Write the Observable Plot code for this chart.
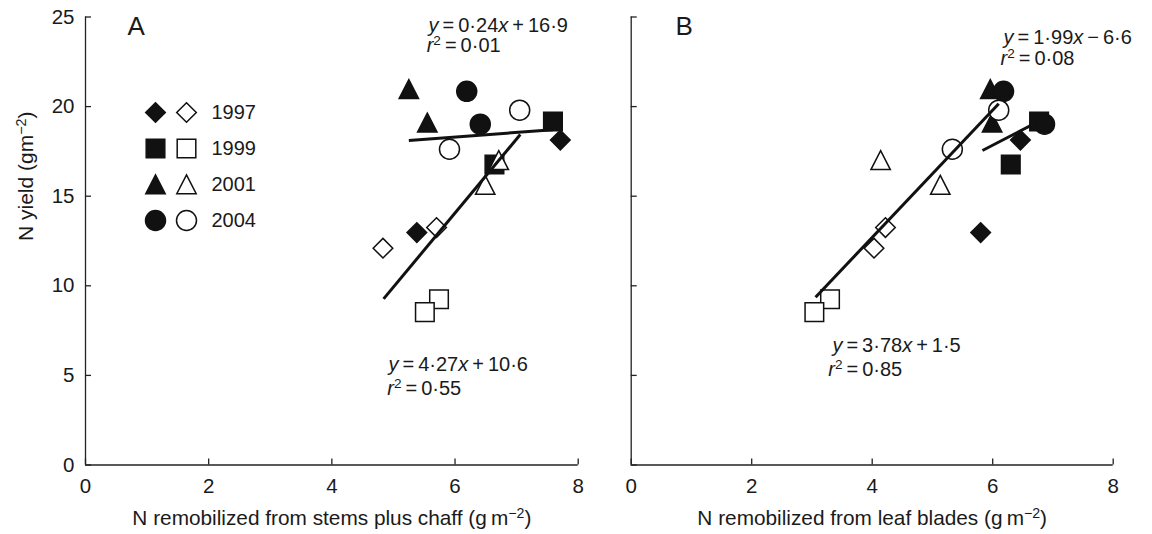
<!DOCTYPE html>
<html><head><meta charset="utf-8">
<script src="https://cdn.jsdelivr.net/npm/d3@7"></script>
<script src="https://cdn.jsdelivr.net/npm/@observablehq/plot@0.6"></script>
<style>
body{margin:0;background:#fff;}
#wrap{position:relative;width:1152px;height:534px;display:flex;}
#pa{width:600px;height:534px;}
#pb{width:552px;height:534px;}
#legend{position:absolute;left:130px;top:90px;}
svg text{white-space:pre;}
</style></head><body>
<div id="wrap"><div id="pa"></div><div id="pb"></div><div id="legend"></div></div>
<script>
// ---------- data ----------
const years = ["1997", "1999", "2001", "2004"];
const groups = ["I", "II"]; // I = filled symbols, II = open symbols
const obsYear  = ["1997","1997","1997","1997","1999","1999","1999","1999","2001","2001","2001","2001","2004","2004","2004","2004"];
const obsGroup = ["I","I","II","II","I","I","II","II","I","I","II","II","I","I","II","II"];
const stemN  = [7.71, 5.38, 5.70, 4.83, 7.59, 6.64, 5.74, 5.51, 5.25, 5.55, 6.71, 6.49, 6.19, 6.41, 7.05, 5.91];
const leafN  = [6.46, 5.80, 4.22, 4.03, 6.77, 6.30, 3.30, 3.04, 5.96, 5.99, 4.14, 5.13, 6.18, 6.86, 6.10, 5.33];
const yieldN = [18.13, 12.97, 13.25, 12.10, 19.17, 16.77, 9.25, 8.53, 20.96, 19.10, 17.00, 15.62, 20.85, 19.02, 19.80, 17.62];

const xTicks = [0, 2, 4, 6, 8];
const yTicks = [0, 5, 10, 15, 20, 25];

// fitted regression segments
const stemFitX1 = [5.25, 4.84], stemFitY1 = [18.11, 9.27], stemFitX2 = [7.59, 7.06], stemFitY2 = [18.71, 18.44];
const leafFitX1 = [3.06, 5.83], leafFitY1 = [9.36, 17.55], leafFitX2 = [6.10, 6.74], leafFitY2 = [20.16, 19.13];

// equation annotations (*italic*, ^superscript^)
const stemEq  = ["*y* = 0·24*x* + 16·9", "*r*^2^ = 0·01", "*y* = 4·27*x* + 10·6", "*r*^2^ = 0·55"];
const stemEqX = [5.57, 5.54, 4.92, 4.90];
const stemEqY = [24.19, 23.02, 5.22, 3.93];
const leafEq  = ["*y* = 1·99*x* − 6·6", "*r*^2^ = 0·08", "*y* = 3·78*x* + 1·5", "*r*^2^ = 0·85"];
const leafEqX = [6.18, 6.13, 3.34, 3.27];
const leafEqY = [23.47, 22.30, 6.28, 4.99];

const panelLetters = ["A", "B"];
const xLabels = ["N remobilized from stems plus chaff (g\u2009m^−2^)", "N remobilized from leaf blades (g\u2009m^−2^)"];
const yLabel = "N yield (gm^−2^)";

// ---------- styles ----------
const FONT = '"Liberation Sans", Arial, Helvetica, sans-serif';
const INK = "#1a1a1a";
const diamondSym = {draw(c, s) { const r = Math.sqrt(s / Math.PI) * 0.98; c.moveTo(0, -r); c.lineTo(r, 0); c.lineTo(0, r); c.lineTo(-r, 0); c.closePath(); }};
const squareSym = {draw(c, s) { const r = Math.sqrt(s / Math.PI) * 0.93; c.moveTo(-r, -r); c.lineTo(r, -r); c.lineTo(r, r); c.lineTo(-r, r); c.closePath(); }};
const triangleSym = {draw(c, s) { const r = Math.sqrt(s / Math.PI) * 0.97; c.moveTo(0, -r); c.lineTo(r, r * 0.95); c.lineTo(-r, r * 0.95); c.closePath(); }};
const symbolScale = {domain: years, range: [diamondSym, squareSym, triangleSym, "circle"]};
const colorScale = {type: "ordinal", domain: groups, range: ["#111111", "#ffffff"]};

const obs = obsYear.map((y, i) => ({year: y, group: obsGroup[i], stem: stemN[i], leaf: leafN[i], yld: yieldN[i]}));

const NS = "http://www.w3.org/2000/svg";
function rich(el, src, thin) {
  while (el.firstChild) el.removeChild(el.firstChild);
  const toks = src.match(/(\*[^*]+\*|\^[^^]+\^|[^*^]+)/g);
  let shift = 0;
  for (const tok of toks) {
    const t = document.createElementNS(NS, "tspan");
    let s;
    if (tok[0] === "*") { t.setAttribute("font-style", "italic"); s = tok.slice(1, -1); }
    else if (tok[0] === "^") { t.setAttribute("font-size", "0.68em"); t.setAttribute("dy", "-7"); shift = 7; s = tok.slice(1, -1); }
    else { s = tok; }
    if (tok[0] !== "^" && shift) { t.setAttribute("dy", String(shift)); shift = 0; }
    if (thin) s = s.replace(/ /g, "\u2009");
    t.textContent = s;
    el.appendChild(t);
  }
}

function panel(k) {
  const isA = k === 0;
  const xKey = isA ? "stem" : "leaf";
  const fits = (isA ? stemFitX1 : leafFitX1).map((_, i) => isA
    ? {x1: stemFitX1[i], y1: stemFitY1[i], x2: stemFitX2[i], y2: stemFitY2[i]}
    : {x1: leafFitX1[i], y1: leafFitY1[i], x2: leafFitX2[i], y2: leafFitY2[i]});
  const eq = isA ? stemEq : leafEq, eqX = isA ? stemEqX : leafEqX, eqY = isA ? stemEqY : leafEqY;
  const eqRows = eq.map((s, i) => ({s, x: eqX[i], y: eqY[i]}));
  const svg = Plot.plot({
    width: isA ? 600 : 552, height: 534,
    marginLeft: isA ? 85 : 30.7, marginRight: isA ? 22.3 : 39.3,
    marginTop: 16.5, marginBottom: 69.5,
    style: {fontFamily: FONT, fontSize: "20px", color: INK, background: "transparent", overflow: "visible"},
    x: {domain: [0, 8], label: null},
    y: {domain: [0, 25], label: null},
    symbol: symbolScale,
    color: colorScale,
    marks: [
      Plot.ruleY([0], {stroke: "#222", strokeWidth: 1.3}),
      Plot.ruleX([0], {stroke: "#222", strokeWidth: 1.3}),
      Plot.axisX({ticks: xTicks, tickSize: 6, dy: -6, fill: "none", stroke: "#222", strokeWidth: 1.3, label: null}),
      Plot.axisX({ticks: xTicks, tickSize: 0, tickPadding: 13, fill: INK, label: null, fontSize: 20.5}),
      Plot.axisY({ticks: yTicks, tickSize: 6, dx: 6, fill: "none", stroke: "#222", strokeWidth: 1.3, label: null}),
      isA ? Plot.axisY({ticks: yTicks, tickSize: 0, tickPadding: 11, fill: INK, label: null, fontSize: 20.5}) : null,
      Plot.dot(obs.filter(d => d.group === "I"), {x: xKey, y: "yld", symbol: "year", fill: "group", stroke: "#111", strokeWidth: 1.5, r: 10}),
      Plot.dot(obs.filter(d => d.group === "II"), {x: xKey, y: "yld", symbol: "year", fill: "group", stroke: "#111", strokeWidth: 1.5, r: 10}),
      Plot.link(fits, {x1: "x1", y1: "y1", x2: "x2", y2: "y2", stroke: "#111", strokeWidth: 3}),
      Plot.text(eqRows, {x: "x", y: "y", text: "s", textAnchor: "start", lineAnchor: "bottom", fill: INK, fontSize: 20, ariaDescription: "equation"}),
      Plot.text([panelLetters[k]], {x: () => isA ? 0.68 : 0.735, y: () => 24.0, text: d => d, textAnchor: "start", lineAnchor: "bottom", fill: INK, fontSize: 26}),
      Plot.text([xLabels[k]], {frameAnchor: "bottom", dy: 59.5, lineAnchor: "bottom", fill: INK, fontSize: 20.8, ariaDescription: "xlabel"}),
      isA ? Plot.text([yLabel], {frameAnchor: "left", dx: -53, rotate: -90, lineAnchor: "bottom", fill: INK, fontSize: 21, ariaDescription: "ylabel"}) : null
    ]
  });
  svg.querySelectorAll('g[aria-description="equation"] text').forEach((el, i) => rich(el, eq[i], true));
  svg.querySelectorAll('g[aria-description="xlabel"] text').forEach(el => rich(el, xLabels[k], false));
  svg.querySelectorAll('g[aria-description="ylabel"] text').forEach(el => rich(el, yLabel, false));
  return svg;
}

document.getElementById("pa").appendChild(panel(0));
document.getElementById("pb").appendChild(panel(1));

// legend (inside panel A)
const legendRows = years.flatMap(y => groups.map(g => ({year: y, group: g})));
const legend = Plot.plot({
  width: 150, height: 150, margin: 0,
  style: {fontFamily: FONT, fontSize: "20px", color: INK, background: "transparent", overflow: "visible"},
  x: {type: "point", domain: groups, range: [25, 56.7], padding: 0, axis: null},
  y: {type: "point", domain: years, range: [21, 131], padding: 0, axis: null},
  symbol: symbolScale,
  color: colorScale,
  marks: [
    Plot.dot(legendRows, {x: "group", y: "year", symbol: "year", fill: "group", stroke: "#111", strokeWidth: 1.5, r: 10}),
    Plot.text(years, {x: () => "II", y: d => d, text: d => d, dx: 25, textAnchor: "start", fill: INK, fontSize: 20})
  ]
});
document.getElementById("legend").appendChild(legend);
</script>
</body></html>
